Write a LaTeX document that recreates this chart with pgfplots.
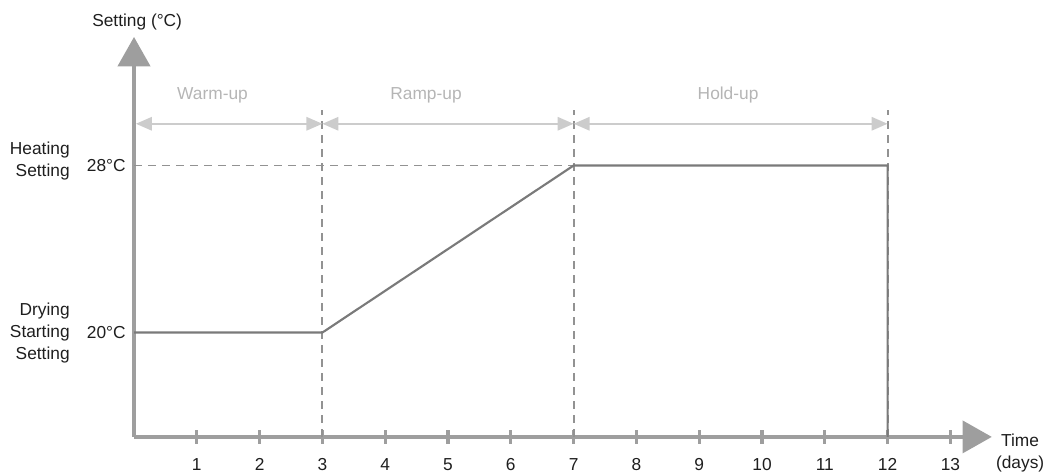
\documentclass[border=0pt]{standalone}
\usepackage{pgfplots}
\pgfplotsset{compat=1.18}
\usepackage{fontspec}
\setmainfont{Liberation Sans}
\usetikzlibrary{arrows.meta}

\definecolor{axisgray}{HTML}{9E9E9E}
\definecolor{linegray}{HTML}{7A7A7A}
\definecolor{dashgray}{HTML}{929292}
\definecolor{phasegray}{HTML}{CCCCCC}
\definecolor{phasetext}{HTML}{B5B5B5}
\definecolor{labeltext}{HTML}{1E1E1E}

\begin{document}
\begin{tikzpicture}[font=\fontsize{13}{16.5}\selectfont, text=labeltext]
\begin{axis}[
  x=47.1pt, y=15.656pt,
  xmin=0, xmax=13.66, ymin=15, ymax=34.16,
  clip=false,
  axis lines=left,
  axis line style={axisgray, line width=3pt, -{Triangle[length=22pt,width=24pt]}},
  xtick={1,...,13},
  ytick={20,28},
  yticklabels={20°C,28°C},
  major tick length=10.5pt,
  tick align=center,
  xtick style={axisgray, line width=2.5pt},
  ytick style={draw=none},
  /pgf/number format/assume math mode=true,
  ticklabel style={font=\fontsize{13}{15}\selectfont, text=labeltext},
  xticklabel style={inner sep=0.5pt, yshift=-10pt},
  yticklabel style={xshift=2.5pt},
]
% guide lines
\addplot[dashgray, line width=1.4pt, dash pattern=on 6pt off 4.5pt] coordinates {(0,28) (7,28)};
\addplot[dashgray, line width=1.4pt, dash pattern=on 6pt off 4.5pt] coordinates {(3,15) (3,30.66)};
\addplot[dashgray, line width=1.4pt, dash pattern=on 6pt off 4.5pt] coordinates {(7,15) (7,30.66)};
\addplot[dashgray, line width=1.4pt, dash pattern=on 6pt off 4.5pt] coordinates {(12,15) (12,30.66)};

% setting profile
\addplot[linegray, line width=1.6pt] coordinates {(0,20) (3,20) (7,28) (12,28) (12,15)};

% phases
\draw[phasegray, line width=1.6pt, {Triangle[length=12pt,width=10pt]}-{Triangle[length=12pt,width=10pt]}]
  (axis cs:0.03,30) -- (axis cs:3,30);
\draw[phasegray, line width=1.6pt, {Triangle[length=12pt,width=10pt]}-{Triangle[length=12pt,width=10pt]}]
  (axis cs:3,30) -- (axis cs:7,30);
\draw[phasegray, line width=1.6pt, {Triangle[length=12pt,width=10pt]}-{Triangle[length=12pt,width=10pt]}]
  (axis cs:7,30) -- (axis cs:12,30);
\node[text=phasetext] at (axis cs:1.25,31.38) {Warm-up};
\node[text=phasetext] at (axis cs:4.65,31.38) {Ramp-up};
\node[text=phasetext] at (axis cs:9.46,31.38) {Hold-up};

% labels
\node[inner sep=0pt] at (axis cs:0.05,34.88) {Setting (°C)};
\node[anchor=east, align=right, inner sep=0pt] at (axis cs:-1.02,28.22) {Heating\\Setting};
\node[anchor=east, align=right, inner sep=0pt] at (axis cs:-1.02,20) {Drying\\Starting\\Setting};
\node[align=center, inner sep=0pt] at (axis cs:14.11,14.25) {Time\\(days)};

\path (axis cs:-2.134,13.28) rectangle (axis cs:14.586,35.93);
\end{axis}
\end{tikzpicture}
\end{document}
